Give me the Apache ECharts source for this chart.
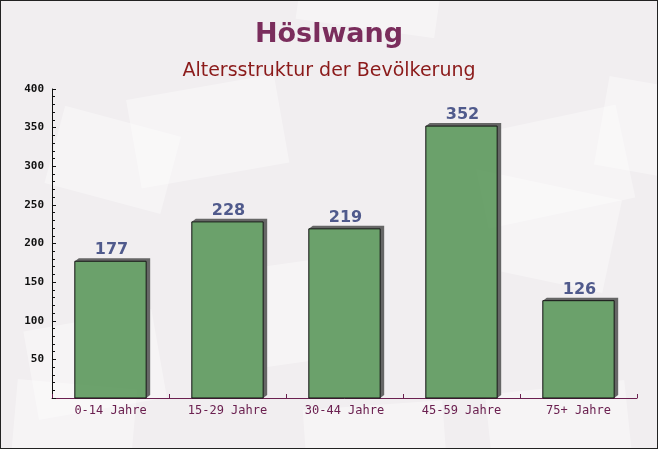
<!DOCTYPE html>
<html>
<head>
<meta charset="utf-8">
<script src="https://cdn.jsdelivr.net/npm/echarts@6/dist/echarts.min.js"></script>
<style>
  html, body { margin: 0; padding: 0; }
  #chart { width: 658px; height: 449px; box-sizing: border-box; border: 1px solid #222; }
</style>
</head>
<body>
<div id="chart"></div>
<script>
const categories = ['0-14 Jahre', '15-29 Jahre', '30-44 Jahre', '45-59 Jahre', '75+ Jahre'];
const values = [177, 228, 219, 352, 126];
const yTicks = { min: 0, max: 400, interval: 50 };

const chart = echarts.init(document.getElementById('chart'));

// faint envelope shapes in the background
const envelopes = [
  [20, 120, 120, 80, -15], [140, 60, 150, 90, 10], [300, -20, 140, 90, -8],
  [470, 20, 150, 95, 12], [560, 180, 130, 90, -10], [230, 230, 150, 100, 8],
  [400, 260, 150, 95, -12], [80, 300, 130, 90, 10], [520, 330, 140, 90, 6],
  [-20, 380, 120, 80, -5], [330, 380, 140, 80, 4]
];
const bgGraphics = envelopes.map(([x, y, w, h, r]) => ({
  type: 'rect',
  x: x, y: y,
  rotation: r * Math.PI / 180,
  originX: x + w / 2, originY: y + h / 2,
  shape: { width: w, height: h },
  style: { fill: 'rgba(255,255,255,0.35)' },
  silent: true,
  z: -10
}));

const renderBar = (params, api) => {
  const cat = api.value(0);
  const val = api.value(1);
  const top = api.coord([cat, val]);
  const base = api.coord([cat, 0]);
  const bw = api.size([1, 0])[0] * 0.61;
  const x0 = top[0] - bw / 2;
  const x1 = top[0] + bw / 2;
  const dx = 4, dy = 3;
  return {
    type: 'group',
    children: [
      {
        type: 'polygon',
        shape: {
          points: [
            [x0, top[1]], [x0 + dx, top[1] - dy], [x1 + dx, top[1] - dy],
            [x1 + dx, base[1] - dy], [x1, base[1]], [x1, top[1]]
          ]
        },
        style: { fill: '#666666' }
      },
      {
        type: 'rect',
        shape: { x: x0, y: top[1], width: bw, height: base[1] - top[1] },
        style: { fill: 'rgba(92,152,92,0.9)', stroke: '#111', lineWidth: 1 }
      },
      {
        type: 'text',
        style: {
          text: String(val),
          x: top[0] + 1,
          y: top[1] - 3,
          align: 'center',
          verticalAlign: 'bottom',
          fill: '#505a8c',
          font: 'bold 16px "DejaVu Sans"'
        }
      }
    ]
  };
};

chart.setOption({
  backgroundColor: '#f1eef0',
  graphic: bgGraphics,
  title: [
    {
      text: 'Höslwang',
      left: 'center',
      top: 15,
      textStyle: { fontFamily: 'DejaVu Sans', fontSize: 27, fontWeight: 'bold', color: '#7a2d5c' }
    },
    {
      text: 'Altersstruktur der Bevölkerung',
      left: 'center',
      top: 56,
      textStyle: { fontFamily: 'DejaVu Sans', fontSize: 19, fontWeight: 'normal', color: '#8b1a1a' }
    }
  ],
  grid: { left: 51, right: 20, top: 88, bottom: 50 },
  xAxis: {
    type: 'category',
    data: categories,
    axisLine: { lineStyle: { color: '#6b2050', width: 1 } },
    axisTick: { show: true, inside: true, length: 4, lineStyle: { color: '#6b2050' } },
    axisLabel: {
      fontFamily: 'DejaVu Sans Mono',
      fontSize: 12,
      color: '#6b2050',
      margin: 7
    }
  },
  yAxis: {
    type: 'value',
    min: yTicks.min,
    max: yTicks.max,
    interval: yTicks.interval,
    splitLine: { show: false },
    axisLine: { show: true, lineStyle: { color: '#111' } },
    axisTick: { show: true, inside: true, length: 4, lineStyle: { color: '#111' } },
    minorTick: { show: true, splitNumber: 5, length: 3, lineStyle: { color: '#111' } },
    axisLabel: {
      fontFamily: 'DejaVu Sans Mono',
      fontWeight: 'bold',
      fontSize: 11,
      color: '#111',
      margin: 8,
      formatter: v => (v === 0 ? '' : String(v))
    }
  },
  series: [
    {
      type: 'custom',
      renderItem: renderBar,
      data: values.map((v, i) => [i, v]),
      encode: { x: 0, y: 1 },
      z: 5
    }
  ]
});
</script>
</body>
</html>
